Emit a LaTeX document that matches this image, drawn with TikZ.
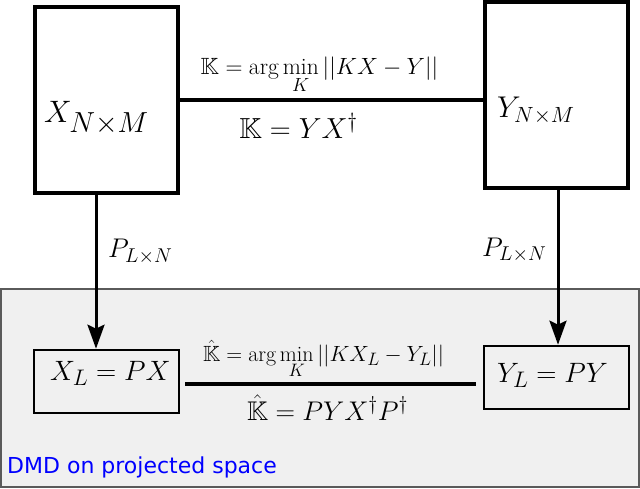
\RequirePackage{fix-cm}
\documentclass[tikz,border=0pt]{standalone}
\usepackage{amsmath,amssymb}
\usepackage{fontspec}
\newfontfamily\dejavu{DejaVu Sans}
\usetikzlibrary{arrows.meta}
\DeclareMathSizes{31}{31}{29}{23}
\DeclareMathSizes{30}{30}{22}{17}
\DeclareMathSizes{28}{28}{22.5}{18}
\DeclareMathSizes{27}{27}{20}{16}
\DeclareMathSizes{29}{29}{22}{17}
\DeclareMathSizes{23.5}{23.5}{19}{15}
\DeclareMathSizes{22}{22}{18}{14}
\definecolor{regionfill}{RGB}{240,240,240}
\definecolor{regionline}{RGB}{90,90,90}
\definecolor{labelblue}{RGB}{0,0,255}
\begin{document}
\begin{tikzpicture}[x=1pt,y=-1pt,
  bigbox/.style={draw,line width=3.2pt,minimum width=143pt,minimum height=186pt,inner sep=0pt},
  smallbox/.style={draw,line width=2.6pt,minimum width=145pt,minimum height=63pt,inner sep=0pt},
  region/.style={draw=regionline,fill=regionfill,line width=1.3pt,minimum width=638pt,minimum height=198pt,inner sep=0pt},
  link/.style={line width=3.2pt},
  lowlink/.style={line width=4pt},
  proj/.style={line width=3pt,-{Stealth[length=24pt,width=17pt,inset=4pt]}},
  mlabel/.style={inner sep=0pt,anchor=base},
  tlabel/.style={inner sep=0pt,anchor=base west},
]
\useasboundingbox (0,0) rectangle (640,489);
\node[region] (reg) at (320,388) {};
\node[bigbox] (X) at (106.5,100) {};
\node[bigbox] (Y) at (556.5,95) {};
\node[smallbox] (XL) at (106.5,381.5) {};
\node[smallbox] (YL) at (556.5,377.5) {};
% box texts
\node[tlabel] (xt) at (44,123) {\fontsize{31}{36}\selectfont $X_{N\times M}$};
\node[tlabel] (yt) at (497,118) {\fontsize{30}{36}\selectfont $Y_{N\times M}$};
\node[tlabel] (xlt) at (50,380) {\fontsize{28}{32}\selectfont $X_L = PX$};
\node[tlabel] (ylt) at (497,382) {\fontsize{28}{32}\selectfont $Y_L = PY$};
% connectors
\draw[link] (X.east) -- (X.east -| Y.west);
\draw[lowlink] ([xshift=5pt,yshift=-2.5pt]XL.east) -- ([xshift=-7pt,yshift=-2.5pt]XL.east -| YL.west);
\draw[proj] ([xshift=-10.5pt]X.south) -- ([xshift=-10.5pt]X.south |- XL.north);
\draw[proj] ([xshift=1.5pt]Y.south) -- ([xshift=1.5pt]Y.south |- YL.north);
% projection labels
\node[tlabel] (pl) at (108,258) {\fontsize{27}{32}\selectfont $P_{L\times N}$};
\node[tlabel] (pr) at (482,256) {\fontsize{27}{32}\selectfont $P_{L\times N}$};
% equation labels
\node[mlabel] (k1) at (319.5,75) {\fontsize{23.5}{26}\selectfont $\mathbb{K} = \arg\min\limits_K ||KX-Y||$};
\node[mlabel] (k2) at (298.5,139) {\fontsize{29}{34}\selectfont $\mathbb{K} = YX^\dagger$};
\node[mlabel] (k3) at (323.5,361) {\fontsize{22}{24}\selectfont $\hat{\mathbb{K}} = \arg\min\limits_K ||KX_L-Y_L||$};
\node[mlabel] (k4) at (327.5,420) {\fontsize{27}{34}\selectfont $\hat{\mathbb{K}} = PYX^\dagger P^\dagger$};
\node[tlabel,text=labelblue] (dmd) at (7,473) {\dejavu\fontsize{22}{26}\selectfont DMD on projected space};
\end{tikzpicture}
\end{document}
